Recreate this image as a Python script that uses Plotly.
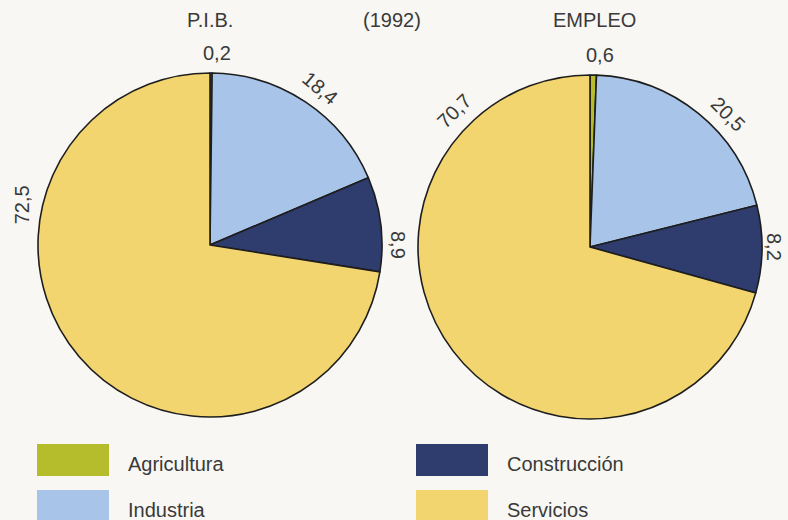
import plotly.graph_objects as go
import math

# ---- data ----
categories = ["Agricultura", "Industria", "Construcción", "Servicios"]
pib_values = [0.2, 18.4, 8.9, 72.5]
empleo_values = [0.6, 20.5, 8.2, 70.7]
pib_labels = ["0,2", "18,4", "8,9", "72,5"]
empleo_labels = ["0,6", "20,5", "8,2", "70,7"]
titles = ["P.I.B.", "(1992)", "EMPLEO"]

# ---- style ----
colors = ["#b6bd2c", "#a8c4e8", "#2f3c6e", "#f3d56f"]
bg = "#f8f7f3"
W, H = 788, 520
font_family = "Liberation Sans, Arial, sans-serif"
text_color = "#3a3a3a"

# pie placement (pixels): left, right, top, bottom
pie_boxes = [(38, 382, 73, 417), (418, 762, 75, 419)]
# label placement: angle (deg, clockwise from top), rotation, radius (px)
pib_label_angles = [2, 35, 90, 282]
pib_label_rot = [0, 40, 90, -90]
pib_label_rad = [192, 192, 188, 192]
emp_label_angles = [3, 46, 90, 315]
emp_label_rot = [0, 45, 90, -45]
emp_label_rad = [192, 192, 184, 192]

fig = go.Figure()
annotations = []

for (l, r, t, b), vals, labs, angs, rots, rads in [
    (pie_boxes[0], pib_values, pib_labels, pib_label_angles, pib_label_rot, pib_label_rad),
    (pie_boxes[1], empleo_values, empleo_labels, emp_label_angles, emp_label_rot, emp_label_rad),
]:
    fig.add_trace(go.Pie(
        labels=categories, values=vals, sort=False, direction="clockwise",
        rotation=0, textinfo="none", hoverinfo="label+value",
        marker=dict(colors=colors, line=dict(color="#1e1e1e", width=1.6)),
        domain=dict(x=[l / W, r / W], y=[(H - b) / H, (H - t) / H]),
        showlegend=False,
    ))
    cx = (l + r) / 2
    cy = (t + b) / 2
    for lab, a, rot, rad in zip(labs, angs, rots, rads):
        px = cx + rad * math.sin(math.radians(a))
        py = cy - rad * math.cos(math.radians(a))
        annotations.append(dict(
            x=px / W, y=1 - py / H, xref="paper", yref="paper",
            text=lab, showarrow=False, textangle=rot,
            font=dict(size=20, color=text_color, family=font_family),
            xanchor="center", yanchor="middle",
        ))

# titles
for txt, x in zip(titles, [210, 392, 594]):
    annotations.append(dict(
        x=x / W, y=1 - 20 / H, xref="paper", yref="paper", text=txt,
        showarrow=False, font=dict(size=20, color=text_color, family=font_family),
        xanchor="center", yanchor="middle",
    ))

# custom legend
shapes = []
legend_pos = [(37, 444), (37, 490), (416, 444), (416, 490)]
for cat, col, (lx, ly) in zip(categories, colors, legend_pos):
    shapes.append(dict(
        type="rect", xref="paper", yref="paper",
        x0=lx / W, x1=(lx + 72) / W, y0=1 - (ly + 32) / H, y1=1 - ly / H,
        fillcolor=col, line=dict(width=0),
    ))
    annotations.append(dict(
        x=(lx + 89) / W, y=1 - (ly + 19.5) / H, xref="paper", yref="paper",
        text=cat, showarrow=False, xanchor="left", yanchor="middle",
        font=dict(size=20, color=text_color, family=font_family),
    ))

fig.update_layout(
    width=W, height=H, margin=dict(l=0, r=0, t=0, b=0),
    paper_bgcolor=bg, plot_bgcolor=bg,
    annotations=annotations, shapes=shapes, showlegend=False,
)

fig.write_html(
    "out.html",
    config={"displayModeBar": False},
    post_script="document.body.style.margin='0';document.body.style.overflow='hidden';"
)
